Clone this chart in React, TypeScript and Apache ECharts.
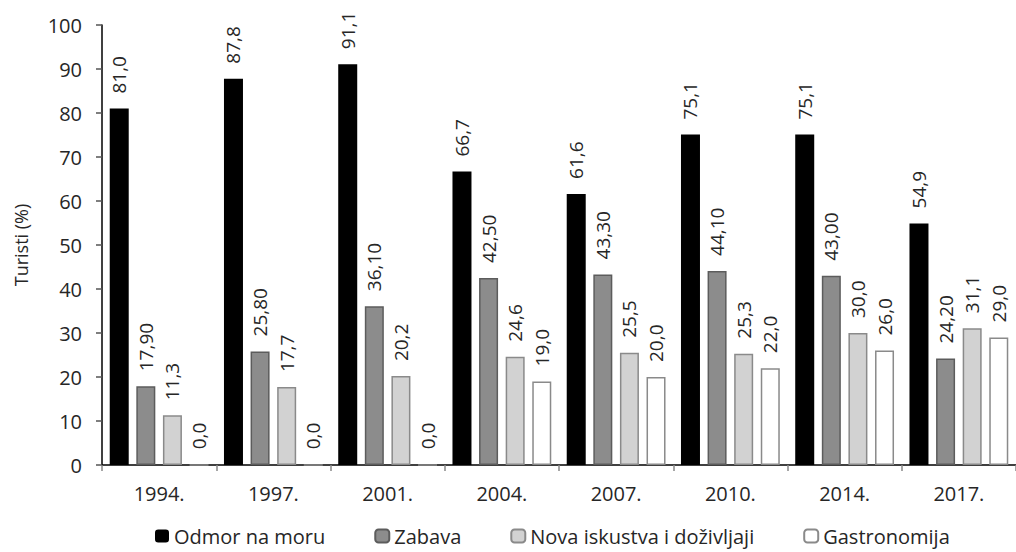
import React, { useEffect, useRef } from "react";
import * as echarts from "echarts";

const years = ["1994.", "1997.", "2001.", "2004.", "2007.", "2010.", "2014.", "2017."];
const odmorNaMoru = [81.0, 87.8, 91.1, 66.7, 61.6, 75.1, 75.1, 54.9];
const zabava = [17.9, 25.8, 36.1, 42.5, 43.3, 44.1, 43.0, 24.2];
const novaIskustva = [11.3, 17.7, 20.2, 24.6, 25.5, 25.3, 30.0, 31.1];
const gastronomija = [0.0, 0.0, 0.0, 19.0, 20.0, 22.0, 26.0, 29.0];
const seriesNames = ["Odmor na moru", "Zabava", "Nova iskustva i doživljaji", "Gastronomija"];
const yTicks = { min: 0, max: 100, interval: 10 };

const FONT = "'Open Sans', sans-serif";
const TXT = "#262626";

export default function App() {
  const ref = useRef<HTMLDivElement>(null);
  useEffect(() => {
    if (!ref.current) return;
    const chart = echarts.init(ref.current, null, { renderer: "svg" });
    const mkLabel = (decimals: number) => ({
      show: true,
      position: "top",
      rotate: 90,
      align: "left",
      verticalAlign: "middle",
      distance: 15,
      fontFamily: FONT,
      fontSize: 19,
      color: TXT,
      formatter: (p: any) => Number(p.value).toFixed(decimals).replace(".", ","),
    });
    const mkSeries = (name: string, data: number[], color: string, border: string, bw: number, dec: number) => ({
      name,
      type: "bar",
      data,
      barWidth: 19,
      barGap: "40%",
      itemStyle: { color, borderColor: border, borderWidth: bw },
      label: mkLabel(dec),
    });
    chart.setOption({
      animation: false,
      textStyle: { fontFamily: FONT },
      grid: { left: 102, top: 25, bottom: 87, width: 923 },
      legend: {
        left: 155,
        top: 526,
        padding: 0,
        itemWidth: 14,
        itemHeight: 13,
        itemGap: 49,
        textStyle: { fontFamily: FONT, fontSize: 20, lineHeight: 20, color: TXT, padding: [0, 0, 0, 0] },
        data: seriesNames,
      },
      xAxis: {
        type: "category",
        data: years,
        axisLine: { lineStyle: { color: "#000", width: 1.5 } },
        axisTick: { show: true, length: 6, lineStyle: { color: "#888", width: 1.5 } },
        axisLabel: { fontFamily: FONT, fontSize: 20, color: TXT, margin: 18 },
      },
      yAxis: {
        type: "value",
        min: yTicks.min,
        max: yTicks.max,
        interval: yTicks.interval,
        name: "Turisti (%)",
        nameLocation: "middle",
        nameRotate: 90,
        nameGap: 72,
        nameTextStyle: { fontFamily: FONT, fontSize: 18, color: TXT },
        axisLine: { show: true, lineStyle: { color: "#000", width: 1.5 } },
        axisTick: { show: true, length: 6, lineStyle: { color: "#555", width: 1.5 } },
        splitLine: { show: false },
        axisLabel: { fontFamily: FONT, fontSize: 20, color: TXT, margin: 20 },
      },
      series: [
        mkSeries(seriesNames[0], odmorNaMoru, "#000000", "#000000", 0, 1),
        mkSeries(seriesNames[1], zabava, "#8c8c8c", "#5c5c5c", 1.5, 2),
        mkSeries(seriesNames[2], novaIskustva, "#d2d2d2", "#8a8a8a", 1.5, 1),
        mkSeries(seriesNames[3], gastronomija, "#ffffff", "#8a8a8a", 1.5, 1),
      ],
    });
    return () => chart.dispose();
  }, []);
  return (
    <div
      ref={ref}
      style={{ position: "absolute", left: 0, top: 0, width: 1016, height: 552, background: "#fff" }}
    />
  );
}
